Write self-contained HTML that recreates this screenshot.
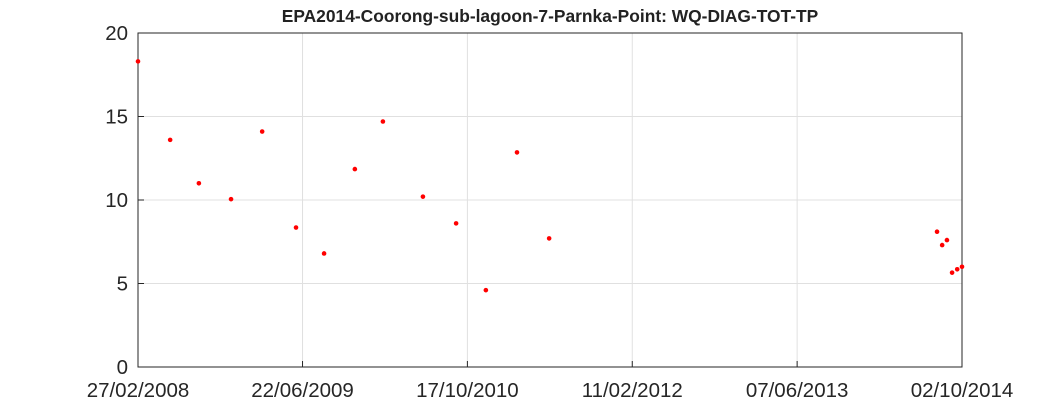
<!DOCTYPE html>
<html><head><meta charset="utf-8"><style>
body{margin:0;background:#fff;}
svg{display:block;font-family:"Liberation Sans",Arial,sans-serif;}
</style></head><body>
<svg id="chart" width="1063" height="413">
<rect x="0" y="0" width="1063" height="413" fill="#fff"/>
<text x="550" y="22" text-anchor="middle" font-size="17.4" font-weight="bold" fill="#222">EPA2014-Coorong-sub-lagoon-7-Parnka-Point: WQ-DIAG-TOT-TP</text>
<g id="grid"></g><g id="axes"></g><g id="points"></g>
</svg>
<script>
// days since 27/02/2008
const dayOffsets=[0,94,178,272,363,462,544,634,716,833,930,1017,1108,1202,2336,2351,2365,2380,2395,2409];
const tpValues=[18.3,13.6,11.0,10.05,14.1,8.35,6.8,11.85,14.7,10.2,8.6,4.6,12.85,7.7,8.1,7.3,7.6,5.65,5.85,6.0];
const xTickDays=[0,481,963,1445,1927,2409];
const xTickLabels=["27/02/2008","22/06/2009","17/10/2010","11/02/2012","07/06/2013","02/10/2014"];
const yTicks=[0,5,10,15,20];

const L=138,R=962,T=33,B=367;
const xS=d=>L+(d-0)/(2409-0)*(R-L);
const yS=v=>B-(v/20)*(B-T);
const NS="http://www.w3.org/2000/svg";
function mk(tag,attrs,parent){const e=document.createElementNS(NS,tag);for(const k in attrs)e.setAttribute(k,attrs[k]);document.getElementById(parent).appendChild(e);return e;}
xTickDays.forEach((d,i)=>{
  const x=xS(d);
  const g=mk('line',{x1:x,x2:x,y1:T,y2:B,stroke:'#e0e0e0','stroke-width':1},'grid');
  
  
  const tk=mk('line',{x1:x,x2:x,y1:B,y2:B-6,stroke:'#262626'},'axes');
  
  
  const t=mk('text',{x:x,y:B+30,'text-anchor':'middle','font-size':20.5,fill:'#262626'},'axes');
  t.textContent=xTickLabels[i];
  
  
});
yTicks.forEach(v=>{
  const y=yS(v);
  const g=mk('line',{x1:L,x2:R,y1:y,y2:y,stroke:'#e0e0e0','stroke-width':1},'grid');
  
  
  const tk=mk('line',{x1:L,x2:L+6,y1:y,y2:y,stroke:'#262626'},'axes');
  
  
  const t=mk('text',{x:L-10,y:y+7,'text-anchor':'end','font-size':20.5,fill:'#262626'},'axes');
  t.textContent=v;
  
  
});
const box=mk('rect',{x:L,y:T,width:R-L,height:B-T,fill:'none',stroke:'#262626','stroke-width':1},'axes');


dayOffsets.forEach((d,i)=>{
  const c=mk('circle',{cx:xS(d),cy:yS(tpValues[i]),r:2.3,fill:'#ff0000'},'points');
  
  
});
</script>
</body></html>
